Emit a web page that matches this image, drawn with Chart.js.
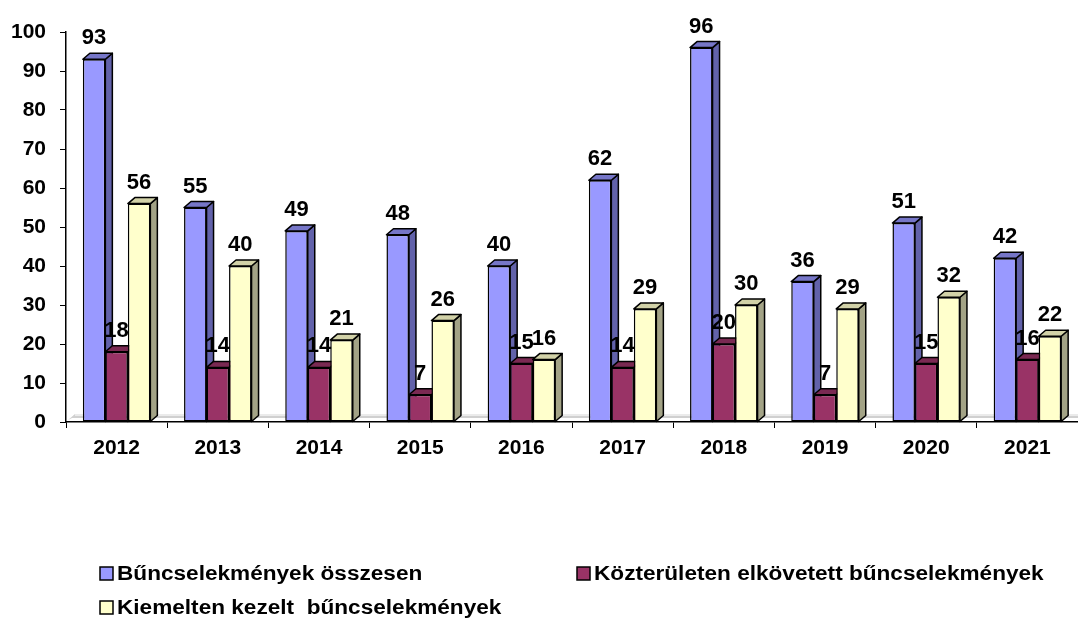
<!DOCTYPE html>
<html>
<head>
<meta charset="utf-8">
<script src="https://cdn.jsdelivr.net/npm/chart.js@4.4.1/dist/chart.umd.min.js"></script>
<style>
    html, body { margin: 0; padding: 0; background: #fff; }
    #wrap { width: 1078px; height: 621px; position: relative; }
</style>
</head>
<body>
<div id="wrap"><canvas id="barChart"></canvas></div>
<script>
const years = ['2012', '2013', '2014', '2015', '2016', '2017', '2018', '2019', '2020', '2021'];
const osszesen = [93, 55, 49, 48, 40, 62, 96, 36, 51, 42];
const kozteruleten = [18, 14, 14, 7, 15, 14, 20, 7, 15, 16];
const kiemelt = [56, 40, 21, 26, 16, 29, 30, 29, 32, 22];
const yTicks = [0, 10, 20, 30, 40, 50, 60, 70, 80, 90, 100];

const seriesNames = [
    'Bűncselekmények összesen',
    'Közterületen elkövetett bűncselekmények',
    'Kiemelten kezelt  bűncselekmények'
];
const FONT = '"Liberation Sans", Arial, sans-serif';

// front / top / side colours for the fake 3d look
const faces = [
    { front: '#9999FF', top: '#7676C8', side: '#6262AA' },
    { front: '#993366', top: '#7A2952', side: '#6B2447' },
    { front: '#FFFFCC', top: '#D2D2A8', side: '#A3A386' }
];
const DX = 7, DY = 6;

const box3d = {
    id: 'box3d',
    beforeDraw(chart) {
        // grey floor of the 3d plot
        const ctx = chart.ctx, a = chart.chartArea;
        ctx.save();
        ctx.fillStyle = '#D0D0D0';
        ctx.beginPath();
        ctx.moveTo(a.left + 2, a.bottom - 2);
        ctx.lineTo(a.left + 2 + DX, a.bottom - 2 - DY);
        ctx.lineTo(a.right, a.bottom - 2 - DY);
        ctx.lineTo(a.right, a.bottom - 4);
        ctx.lineTo(a.left + 6, a.bottom - 4);
        ctx.closePath();
        ctx.fill();
        ctx.fillStyle = '#EBEBEB';
        ctx.fillRect(a.left + 2 + DX, a.bottom - 2 - DY, a.right - a.left - DX, 2);
        ctx.restore();
    },
    beforeDatasetsDraw(chart) {
        // sides and tops first, in series order; chart.js then paints the fronts over them
        const ctx = chart.ctx;
        ctx.save();
        ctx.lineWidth = 1.5;
        ctx.strokeStyle = '#000';
        ctx.lineJoin = 'round';
        chart.data.datasets.forEach((ds, i) => {
            const f = faces[i];
            chart.getDatasetMeta(i).data.forEach(bar => {
                const p = bar.getProps(['x', 'y', 'base', 'width'], true);
                const x1 = p.x - p.width / 2, x2 = p.x + p.width / 2;
                ctx.fillStyle = f.side;
                ctx.beginPath();
                ctx.moveTo(x2, p.y);
                ctx.lineTo(x2 + DX, p.y - DY);
                ctx.lineTo(x2 + DX, p.base - DY);
                ctx.lineTo(x2, p.base);
                ctx.closePath();
                ctx.fill();
                ctx.stroke();
                ctx.fillStyle = f.top;
                ctx.beginPath();
                ctx.moveTo(x1, p.y);
                ctx.lineTo(x1 + DX, p.y - DY);
                ctx.lineTo(x2 + DX, p.y - DY);
                ctx.lineTo(x2, p.y);
                ctx.closePath();
                ctx.fill();
                ctx.stroke();
            });
        });
        ctx.restore();
    },
    afterDatasetsDraw(chart) {
        const ctx = chart.ctx;
        ctx.save();
        ctx.font = 'bold 22px ' + FONT;
        ctx.fillStyle = '#000';
        ctx.textAlign = 'center';
        ctx.textBaseline = 'alphabetic';
        chart.data.datasets.forEach((ds, i) => {
            chart.getDatasetMeta(i).data.forEach((bar, j) => {
                ctx.fillText(String(ds.data[j]), bar.x, bar.y - 15);
            });
        });
        ctx.restore();
    },
    afterDraw(chart) {
        // legend, laid out like the original (2 + 1 rows), text a bit wide like excel's
        const ctx = chart.ctx;
        const spots = [[100, 573], [577, 573], [100, 607]];
        ctx.save();
        ctx.font = 'bold 20px ' + FONT;
        ctx.textBaseline = 'middle';
        ctx.textAlign = 'left';
        chart.data.datasets.forEach((ds, i) => {
            const [x, y] = spots[i];
            ctx.fillStyle = faces[i].front;
            ctx.fillRect(x, y - 6, 13, 13);
            ctx.strokeStyle = '#000';
            ctx.lineWidth = 1.5;
            ctx.strokeRect(x, y - 6, 13, 13);
            ctx.fillStyle = '#000';
            ctx.save();
            ctx.translate(x + 17, y + 1);
            ctx.scale(1.13, 1);
            ctx.fillText(ds.label, 0, 0);
            ctx.restore();
        });
        ctx.restore();
    }
};

const barChart = () => {
    const ctx = document.getElementById('barChart');

    const data = {
        labels: years,
        datasets: [
            { label: seriesNames[0], data: osszesen, backgroundColor: faces[0].front },
            { label: seriesNames[1], data: kozteruleten, backgroundColor: faces[1].front },
            { label: seriesNames[2], data: kiemelt, backgroundColor: faces[2].front }
        ].map(d => Object.assign(d, { borderColor: '#000', borderWidth: 1.5, borderSkipped: false }))
    };

    const config = {
        type: 'bar',
        data: data,
        options: {
            responsive: true,
            maintainAspectRatio: false,
            animation: false,
            layout: { padding: { top: 32, right: 0, bottom: 159, left: 0 } },
            datasets: { bar: { categoryPercentage: 0.667, barPercentage: 1 } },
            plugins: {
                legend: { display: false },
                tooltip: { enabled: false }
            },
            scales: {
                x: {
                    grid: { drawOnChartArea: false, tickLength: 6, color: '#000', lineWidth: 1 },
                    border: { color: '#000', width: 1.5 },
                    ticks: { color: '#000', padding: 8, font: { family: FONT, size: 21, weight: 'bold' } },
                    afterFit: s => { s.height = 40; }
                },
                y: {
                    min: 0,
                    max: 100,
                    afterBuildTicks: s => { s.ticks = yTicks.map(v => ({ value: v })); },
                    grid: { drawOnChartArea: false, tickLength: 6, color: '#000', lineWidth: 1 },
                    border: { color: '#000', width: 1.5 },
                    ticks: { color: '#000', padding: 14, font: { family: FONT, size: 21, weight: 'bold' } },
                    afterFit: s => { s.width = 66; }
                }
            }
        },
        plugins: [box3d]
    };

    new Chart(ctx, config);
};

barChart();
</script>
</body>
</html>
